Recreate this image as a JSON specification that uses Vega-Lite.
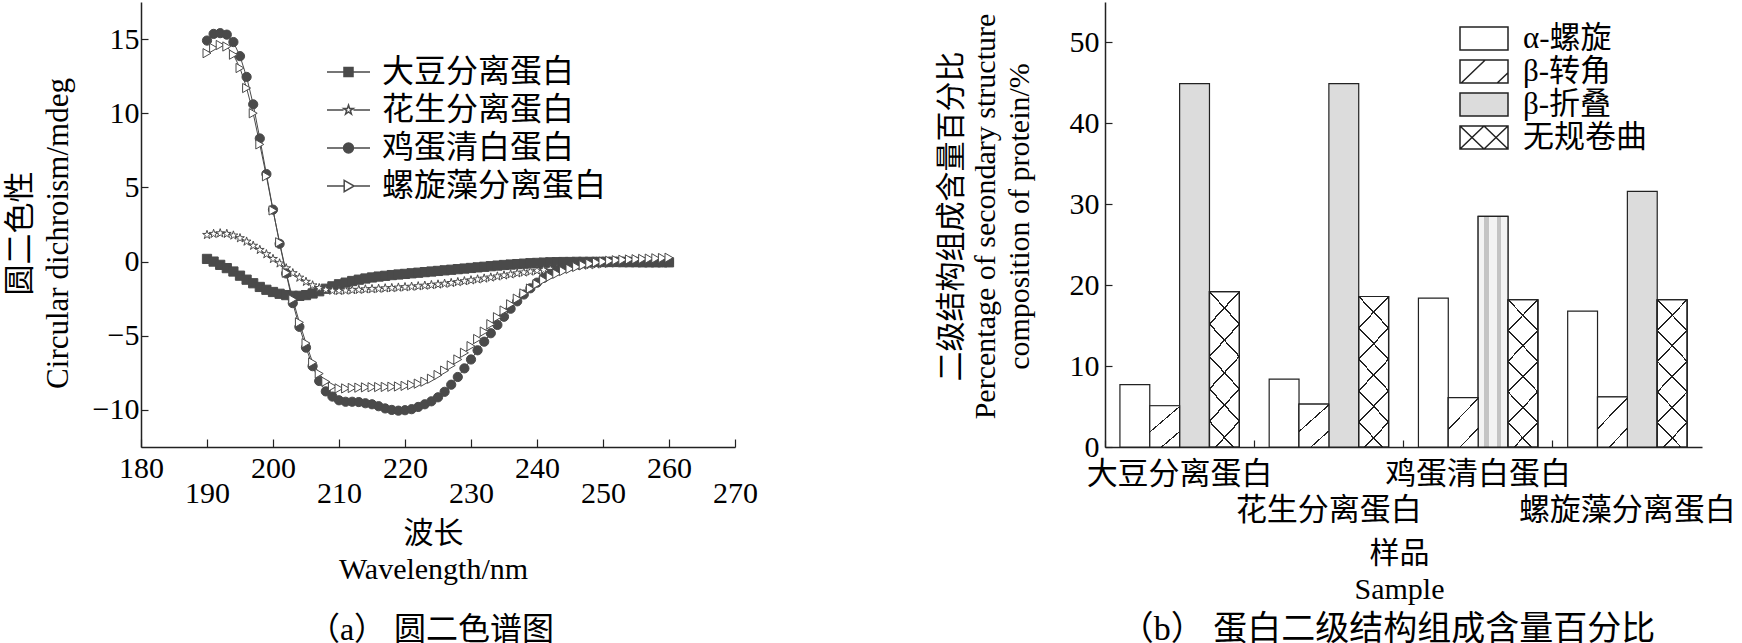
{
  "$schema": "https://vega.github.io/schema/vega-lite/v6.json",
  "padding": {"left": 4, "top": 2, "right": 0, "bottom": 0},
  "background": "white",
  "bounds": "flush",
  "spacing": 370,
  "resolve": {"scale": {"fill": "independent", "shape": "independent", "x": "independent", "y": "independent"}, "legend": {"fill": "independent", "shape": "independent"}},
  "config": {
    "view": {"stroke": null},
    "axis": {
      "labelFont": "Liberation Serif, Noto Sans CJK SC",
      "titleFont": "Liberation Serif, Noto Sans CJK SC",
      "labelColor": "#000",
      "titleColor": "#000",
      "titleFontWeight": "normal",
      "labelFontSize": 30,
      "titleFontSize": 30,
      "grid": false,
      "domainColor": "#222",
      "tickColor": "#222",
      "domainWidth": 1.5,
      "tickWidth": 1.2,
      "labelFlush": false,
      "labelOverlap": false,
      "labelBound": false,
      "labelLimit": 500
    },
    "legend": {"labelFont": "Liberation Serif, Noto Sans CJK SC", "labelColor": "#000", "padding": 0, "labelLimit": 500},
    "title": {"font": "Liberation Serif, Noto Sans CJK SC", "fontWeight": "normal", "color": "#000"}
  },
  "datasets": {
    "cd": [
      {"wl":190,"v":0.18,"s":"大豆分离蛋白"},{"wl":191,"v":0.0,"s":"大豆分离蛋白"},{"wl":192,"v":-0.22,"s":"大豆分离蛋白"},{"wl":193,"v":-0.44,"s":"大豆分离蛋白"},{"wl":194,"v":-0.67,"s":"大豆分离蛋白"},{"wl":195,"v":-0.95,"s":"大豆分离蛋白"},{"wl":196,"v":-1.22,"s":"大豆分离蛋白"},{"wl":197,"v":-1.46,"s":"大豆分离蛋白"},{"wl":198,"v":-1.71,"s":"大豆分离蛋白"},{"wl":199,"v":-1.9,"s":"大豆分离蛋白"},
      {"wl":200,"v":-2.05,"s":"大豆分离蛋白"},{"wl":201,"v":-2.17,"s":"大豆分离蛋白"},{"wl":202,"v":-2.26,"s":"大豆分离蛋白"},{"wl":203,"v":-2.31,"s":"大豆分离蛋白"},{"wl":204,"v":-2.31,"s":"大豆分离蛋白"},{"wl":205,"v":-2.26,"s":"大豆分离蛋白"},{"wl":206,"v":-2.15,"s":"大豆分离蛋白"},{"wl":207,"v":-2.0,"s":"大豆分离蛋白"},{"wl":208,"v":-1.83,"s":"大豆分离蛋白"},{"wl":209,"v":-1.67,"s":"大豆分离蛋白"},
      {"wl":210,"v":-1.53,"s":"大豆分离蛋白"},{"wl":211,"v":-1.42,"s":"大豆分离蛋白"},{"wl":212,"v":-1.31,"s":"大豆分离蛋白"},{"wl":213,"v":-1.22,"s":"大豆分离蛋白"},{"wl":214,"v":-1.14,"s":"大豆分离蛋白"},{"wl":215,"v":-1.07,"s":"大豆分离蛋白"},{"wl":216,"v":-1.01,"s":"大豆分离蛋白"},{"wl":217,"v":-0.96,"s":"大豆分离蛋白"},{"wl":218,"v":-0.91,"s":"大豆分离蛋白"},{"wl":219,"v":-0.87,"s":"大豆分离蛋白"},
      {"wl":220,"v":-0.83,"s":"大豆分离蛋白"},{"wl":221,"v":-0.79,"s":"大豆分离蛋白"},{"wl":222,"v":-0.75,"s":"大豆分离蛋白"},{"wl":223,"v":-0.71,"s":"大豆分离蛋白"},{"wl":224,"v":-0.67,"s":"大豆分离蛋白"},{"wl":225,"v":-0.63,"s":"大豆分离蛋白"},{"wl":226,"v":-0.59,"s":"大豆分离蛋白"},{"wl":227,"v":-0.55,"s":"大豆分离蛋白"},{"wl":228,"v":-0.51,"s":"大豆分离蛋白"},{"wl":229,"v":-0.47,"s":"大豆分离蛋白"},
      {"wl":230,"v":-0.43,"s":"大豆分离蛋白"},{"wl":231,"v":-0.39,"s":"大豆分离蛋白"},{"wl":232,"v":-0.35,"s":"大豆分离蛋白"},{"wl":233,"v":-0.31,"s":"大豆分离蛋白"},{"wl":234,"v":-0.27,"s":"大豆分离蛋白"},{"wl":235,"v":-0.23,"s":"大豆分离蛋白"},{"wl":236,"v":-0.2,"s":"大豆分离蛋白"},{"wl":237,"v":-0.17,"s":"大豆分离蛋白"},{"wl":238,"v":-0.14,"s":"大豆分离蛋白"},{"wl":239,"v":-0.11,"s":"大豆分离蛋白"},
      {"wl":240,"v":-0.09,"s":"大豆分离蛋白"},{"wl":241,"v":-0.07,"s":"大豆分离蛋白"},{"wl":242,"v":-0.05,"s":"大豆分离蛋白"},{"wl":243,"v":-0.04,"s":"大豆分离蛋白"},{"wl":244,"v":-0.03,"s":"大豆分离蛋白"},{"wl":245,"v":-0.03,"s":"大豆分离蛋白"},{"wl":246,"v":-0.02,"s":"大豆分离蛋白"},{"wl":247,"v":-0.02,"s":"大豆分离蛋白"},{"wl":248,"v":-0.02,"s":"大豆分离蛋白"},{"wl":249,"v":-0.02,"s":"大豆分离蛋白"},
      {"wl":250,"v":-0.03,"s":"大豆分离蛋白"},{"wl":251,"v":-0.03,"s":"大豆分离蛋白"},{"wl":252,"v":-0.03,"s":"大豆分离蛋白"},{"wl":253,"v":-0.04,"s":"大豆分离蛋白"},{"wl":254,"v":-0.04,"s":"大豆分离蛋白"},{"wl":255,"v":-0.04,"s":"大豆分离蛋白"},{"wl":256,"v":-0.05,"s":"大豆分离蛋白"},{"wl":257,"v":-0.05,"s":"大豆分离蛋白"},{"wl":258,"v":-0.05,"s":"大豆分离蛋白"},{"wl":259,"v":-0.05,"s":"大豆分离蛋白"},{"wl":260,"v":-0.05,"s":"大豆分离蛋白"},

      {"wl":190,"v":1.8,"s":"花生分离蛋白"},{"wl":191,"v":1.87,"s":"花生分离蛋白"},{"wl":192,"v":1.91,"s":"花生分离蛋白"},{"wl":193,"v":1.87,"s":"花生分离蛋白"},{"wl":194,"v":1.76,"s":"花生分离蛋白"},{"wl":195,"v":1.58,"s":"花生分离蛋白"},{"wl":196,"v":1.35,"s":"花生分离蛋白"},{"wl":197,"v":1.07,"s":"花生分离蛋白"},{"wl":198,"v":0.79,"s":"花生分离蛋白"},{"wl":199,"v":0.5,"s":"花生分离蛋白"},
      {"wl":200,"v":0.18,"s":"花生分离蛋白"},{"wl":201,"v":-0.12,"s":"花生分离蛋白"},{"wl":202,"v":-0.45,"s":"花生分离蛋白"},{"wl":203,"v":-0.78,"s":"花生分离蛋白"},{"wl":204,"v":-1.08,"s":"花生分离蛋白"},{"wl":205,"v":-1.36,"s":"花生分离蛋白"},{"wl":206,"v":-1.6,"s":"花生分离蛋白"},{"wl":207,"v":-1.78,"s":"花生分离蛋白"},{"wl":208,"v":-1.9,"s":"花生分离蛋白"},{"wl":209,"v":-1.96,"s":"花生分离蛋白"},
      {"wl":210,"v":-1.97,"s":"花生分离蛋白"},{"wl":211,"v":-1.95,"s":"花生分离蛋白"},{"wl":212,"v":-1.92,"s":"花生分离蛋白"},{"wl":213,"v":-1.9,"s":"花生分离蛋白"},{"wl":214,"v":-1.87,"s":"花生分离蛋白"},{"wl":215,"v":-1.85,"s":"花生分离蛋白"},{"wl":216,"v":-1.83,"s":"花生分离蛋白"},{"wl":217,"v":-1.8,"s":"花生分离蛋白"},{"wl":218,"v":-1.78,"s":"花生分离蛋白"},{"wl":219,"v":-1.75,"s":"花生分离蛋白"},
      {"wl":220,"v":-1.72,"s":"花生分离蛋白"},{"wl":221,"v":-1.69,"s":"花生分离蛋白"},{"wl":222,"v":-1.66,"s":"花生分离蛋白"},{"wl":223,"v":-1.62,"s":"花生分离蛋白"},{"wl":224,"v":-1.58,"s":"花生分离蛋白"},{"wl":225,"v":-1.54,"s":"花生分离蛋白"},{"wl":226,"v":-1.49,"s":"花生分离蛋白"},{"wl":227,"v":-1.44,"s":"花生分离蛋白"},{"wl":228,"v":-1.38,"s":"花生分离蛋白"},{"wl":229,"v":-1.32,"s":"花生分离蛋白"},
      {"wl":230,"v":-1.26,"s":"花生分离蛋白"},{"wl":231,"v":-1.2,"s":"花生分离蛋白"},{"wl":232,"v":-1.14,"s":"花生分离蛋白"},{"wl":233,"v":-1.07,"s":"花生分离蛋白"},{"wl":234,"v":-1.0,"s":"花生分离蛋白"},{"wl":235,"v":-0.93,"s":"花生分离蛋白"},{"wl":236,"v":-0.86,"s":"花生分离蛋白"},{"wl":237,"v":-0.79,"s":"花生分离蛋白"},{"wl":238,"v":-0.73,"s":"花生分离蛋白"},{"wl":239,"v":-0.67,"s":"花生分离蛋白"},
      {"wl":240,"v":-0.61,"s":"花生分离蛋白"},{"wl":241,"v":-0.56,"s":"花生分离蛋白"},{"wl":242,"v":-0.51,"s":"花生分离蛋白"},{"wl":243,"v":-0.46,"s":"花生分离蛋白"},{"wl":244,"v":-0.41,"s":"花生分离蛋白"},{"wl":245,"v":-0.36,"s":"花生分离蛋白"},{"wl":246,"v":-0.31,"s":"花生分离蛋白"},{"wl":247,"v":-0.27,"s":"花生分离蛋白"},{"wl":248,"v":-0.23,"s":"花生分离蛋白"},{"wl":249,"v":-0.19,"s":"花生分离蛋白"},
      {"wl":250,"v":-0.15,"s":"花生分离蛋白"},{"wl":251,"v":-0.12,"s":"花生分离蛋白"},{"wl":252,"v":-0.09,"s":"花生分离蛋白"},{"wl":253,"v":-0.07,"s":"花生分离蛋白"},{"wl":254,"v":-0.05,"s":"花生分离蛋白"},{"wl":255,"v":-0.03,"s":"花生分离蛋白"},{"wl":256,"v":-0.02,"s":"花生分离蛋白"},{"wl":257,"v":-0.01,"s":"花生分离蛋白"},{"wl":258,"v":0.0,"s":"花生分离蛋白"},{"wl":259,"v":0.0,"s":"花生分离蛋白"},{"wl":260,"v":0.01,"s":"花生分离蛋白"},

      {"wl":190,"v":14.9,"s":"鸡蛋清白蛋白"},{"wl":191,"v":15.35,"s":"鸡蛋清白蛋白"},{"wl":192,"v":15.4,"s":"鸡蛋清白蛋白"},{"wl":193,"v":15.3,"s":"鸡蛋清白蛋白"},{"wl":194,"v":14.8,"s":"鸡蛋清白蛋白"},{"wl":195,"v":13.85,"s":"鸡蛋清白蛋白"},{"wl":196,"v":12.45,"s":"鸡蛋清白蛋白"},{"wl":197,"v":10.6,"s":"鸡蛋清白蛋白"},{"wl":198,"v":8.3,"s":"鸡蛋清白蛋白"},{"wl":199,"v":5.9,"s":"鸡蛋清白蛋白"},
      {"wl":200,"v":3.5,"s":"鸡蛋清白蛋白"},{"wl":201,"v":1.2,"s":"鸡蛋清白蛋白"},{"wl":202,"v":-0.8,"s":"鸡蛋清白蛋白"},{"wl":203,"v":-2.8,"s":"鸡蛋清白蛋白"},{"wl":204,"v":-4.4,"s":"鸡蛋清白蛋白"},{"wl":205,"v":-5.8,"s":"鸡蛋清白蛋白"},{"wl":206,"v":-7.05,"s":"鸡蛋清白蛋白"},{"wl":207,"v":-8.05,"s":"鸡蛋清白蛋白"},{"wl":208,"v":-8.75,"s":"鸡蛋清白蛋白"},{"wl":209,"v":-9.1,"s":"鸡蛋清白蛋白"},
      {"wl":210,"v":-9.35,"s":"鸡蛋清白蛋白"},{"wl":211,"v":-9.45,"s":"鸡蛋清白蛋白"},{"wl":212,"v":-9.45,"s":"鸡蛋清白蛋白"},{"wl":213,"v":-9.47,"s":"鸡蛋清白蛋白"},{"wl":214,"v":-9.55,"s":"鸡蛋清白蛋白"},{"wl":215,"v":-9.62,"s":"鸡蛋清白蛋白"},{"wl":216,"v":-9.75,"s":"鸡蛋清白蛋白"},{"wl":217,"v":-9.9,"s":"鸡蛋清白蛋白"},{"wl":218,"v":-10.0,"s":"鸡蛋清白蛋白"},{"wl":219,"v":-10.05,"s":"鸡蛋清白蛋白"},
      {"wl":220,"v":-10.02,"s":"鸡蛋清白蛋白"},{"wl":221,"v":-9.95,"s":"鸡蛋清白蛋白"},{"wl":222,"v":-9.8,"s":"鸡蛋清白蛋白"},{"wl":223,"v":-9.62,"s":"鸡蛋清白蛋白"},{"wl":224,"v":-9.42,"s":"鸡蛋清白蛋白"},{"wl":225,"v":-9.15,"s":"鸡蛋清白蛋白"},{"wl":226,"v":-8.78,"s":"鸡蛋清白蛋白"},{"wl":227,"v":-8.3,"s":"鸡蛋清白蛋白"},{"wl":228,"v":-7.78,"s":"鸡蛋清白蛋白"},{"wl":229,"v":-7.2,"s":"鸡蛋清白蛋白"},
      {"wl":230,"v":-6.6,"s":"鸡蛋清白蛋白"},{"wl":231,"v":-5.98,"s":"鸡蛋清白蛋白"},{"wl":232,"v":-5.4,"s":"鸡蛋清白蛋白"},{"wl":233,"v":-4.83,"s":"鸡蛋清白蛋白"},{"wl":234,"v":-4.27,"s":"鸡蛋清白蛋白"},{"wl":235,"v":-3.72,"s":"鸡蛋清白蛋白"},{"wl":236,"v":-3.18,"s":"鸡蛋清白蛋白"},{"wl":237,"v":-2.68,"s":"鸡蛋清白蛋白"},{"wl":238,"v":-2.22,"s":"鸡蛋清白蛋白"},{"wl":239,"v":-1.8,"s":"鸡蛋清白蛋白"},
      {"wl":240,"v":-1.42,"s":"鸡蛋清白蛋白"},{"wl":241,"v":-1.1,"s":"鸡蛋清白蛋白"},{"wl":242,"v":-0.83,"s":"鸡蛋清白蛋白"},{"wl":243,"v":-0.6,"s":"鸡蛋清白蛋白"},{"wl":244,"v":-0.42,"s":"鸡蛋清白蛋白"},{"wl":245,"v":-0.28,"s":"鸡蛋清白蛋白"},{"wl":246,"v":-0.18,"s":"鸡蛋清白蛋白"},{"wl":247,"v":-0.1,"s":"鸡蛋清白蛋白"},{"wl":248,"v":-0.05,"s":"鸡蛋清白蛋白"},{"wl":249,"v":-0.02,"s":"鸡蛋清白蛋白"},
      {"wl":250,"v":0.0,"s":"鸡蛋清白蛋白"},{"wl":251,"v":0.0,"s":"鸡蛋清白蛋白"},{"wl":252,"v":0.0,"s":"鸡蛋清白蛋白"},{"wl":253,"v":0.0,"s":"鸡蛋清白蛋白"},{"wl":254,"v":0.0,"s":"鸡蛋清白蛋白"},{"wl":255,"v":-0.01,"s":"鸡蛋清白蛋白"},{"wl":256,"v":-0.01,"s":"鸡蛋清白蛋白"},{"wl":257,"v":-0.02,"s":"鸡蛋清白蛋白"},{"wl":258,"v":-0.02,"s":"鸡蛋清白蛋白"},{"wl":259,"v":-0.03,"s":"鸡蛋清白蛋白"},{"wl":260,"v":-0.03,"s":"鸡蛋清白蛋白"},

      {"wl":190,"v":14.05,"s":"螺旋藻分离蛋白"},{"wl":191,"v":14.4,"s":"螺旋藻分离蛋白"},{"wl":192,"v":14.6,"s":"螺旋藻分离蛋白"},{"wl":193,"v":14.5,"s":"螺旋藻分离蛋白"},{"wl":194,"v":13.95,"s":"螺旋藻分离蛋白"},{"wl":195,"v":13.05,"s":"螺旋藻分离蛋白"},{"wl":196,"v":11.7,"s":"螺旋藻分离蛋白"},{"wl":197,"v":10.0,"s":"螺旋藻分离蛋白"},{"wl":198,"v":7.9,"s":"螺旋藻分离蛋白"},{"wl":199,"v":5.75,"s":"螺旋藻分离蛋白"},
      {"wl":200,"v":3.45,"s":"螺旋藻分离蛋白"},{"wl":201,"v":1.3,"s":"螺旋藻分离蛋白"},{"wl":202,"v":-0.75,"s":"螺旋藻分离蛋白"},{"wl":203,"v":-2.55,"s":"螺旋藻分离蛋白"},{"wl":204,"v":-4.1,"s":"螺旋藻分离蛋白"},{"wl":205,"v":-5.5,"s":"螺旋藻分离蛋白"},{"wl":206,"v":-6.8,"s":"螺旋藻分离蛋白"},{"wl":207,"v":-7.55,"s":"螺旋藻分离蛋白"},{"wl":208,"v":-8.1,"s":"螺旋藻分离蛋白"},{"wl":209,"v":-8.42,"s":"螺旋藻分离蛋白"},
      {"wl":210,"v":-8.55,"s":"螺旋藻分离蛋白"},{"wl":211,"v":-8.55,"s":"螺旋藻分离蛋白"},{"wl":212,"v":-8.52,"s":"螺旋藻分离蛋白"},{"wl":213,"v":-8.5,"s":"螺旋藻分离蛋白"},{"wl":214,"v":-8.48,"s":"螺旋藻分离蛋白"},{"wl":215,"v":-8.47,"s":"螺旋藻分离蛋白"},{"wl":216,"v":-8.46,"s":"螺旋藻分离蛋白"},{"wl":217,"v":-8.45,"s":"螺旋藻分离蛋白"},{"wl":218,"v":-8.44,"s":"螺旋藻分离蛋白"},{"wl":219,"v":-8.42,"s":"螺旋藻分离蛋白"},
      {"wl":220,"v":-8.38,"s":"螺旋藻分离蛋白"},{"wl":221,"v":-8.32,"s":"螺旋藻分离蛋白"},{"wl":222,"v":-8.23,"s":"螺旋藻分离蛋白"},{"wl":223,"v":-8.1,"s":"螺旋藻分离蛋白"},{"wl":224,"v":-7.9,"s":"螺旋藻分离蛋白"},{"wl":225,"v":-7.65,"s":"螺旋藻分离蛋白"},{"wl":226,"v":-7.35,"s":"螺旋藻分离蛋白"},{"wl":227,"v":-7.0,"s":"螺旋藻分离蛋白"},{"wl":228,"v":-6.6,"s":"螺旋藻分离蛋白"},{"wl":229,"v":-6.15,"s":"螺旋藻分离蛋白"},
      {"wl":230,"v":-5.7,"s":"螺旋藻分离蛋白"},{"wl":231,"v":-5.22,"s":"螺旋藻分离蛋白"},{"wl":232,"v":-4.72,"s":"螺旋藻分离蛋白"},{"wl":233,"v":-4.22,"s":"螺旋藻分离蛋白"},{"wl":234,"v":-3.75,"s":"螺旋藻分离蛋白"},{"wl":235,"v":-3.3,"s":"螺旋藻分离蛋白"},{"wl":236,"v":-2.88,"s":"螺旋藻分离蛋白"},{"wl":237,"v":-2.5,"s":"螺旋藻分离蛋白"},{"wl":238,"v":-2.15,"s":"螺旋藻分离蛋白"},{"wl":239,"v":-1.82,"s":"螺旋藻分离蛋白"},
      {"wl":240,"v":-1.52,"s":"螺旋藻分离蛋白"},{"wl":241,"v":-1.25,"s":"螺旋藻分离蛋白"},{"wl":242,"v":-1.02,"s":"螺旋藻分离蛋白"},{"wl":243,"v":-0.82,"s":"螺旋藻分离蛋白"},{"wl":244,"v":-0.64,"s":"螺旋藻分离蛋白"},{"wl":245,"v":-0.49,"s":"螺旋藻分离蛋白"},{"wl":246,"v":-0.36,"s":"螺旋藻分离蛋白"},{"wl":247,"v":-0.24,"s":"螺旋藻分离蛋白"},{"wl":248,"v":-0.14,"s":"螺旋藻分离蛋白"},{"wl":249,"v":-0.06,"s":"螺旋藻分离蛋白"},
      {"wl":250,"v":0.0,"s":"螺旋藻分离蛋白"},{"wl":251,"v":0.05,"s":"螺旋藻分离蛋白"},{"wl":252,"v":0.09,"s":"螺旋藻分离蛋白"},{"wl":253,"v":0.12,"s":"螺旋藻分离蛋白"},{"wl":254,"v":0.14,"s":"螺旋藻分离蛋白"},{"wl":255,"v":0.16,"s":"螺旋藻分离蛋白"},{"wl":256,"v":0.18,"s":"螺旋藻分离蛋白"},{"wl":257,"v":0.2,"s":"螺旋藻分离蛋白"},{"wl":258,"v":0.22,"s":"螺旋藻分离蛋白"},{"wl":259,"v":0.24,"s":"螺旋藻分离蛋白"},{"wl":260,"v":0.26,"s":"螺旋藻分离蛋白"}
    ],
    "ss": [
      {"sample":"大豆分离蛋白","structure":"α-螺旋","value":7.7},
      {"sample":"大豆分离蛋白","structure":"β-转角","value":5.1},
      {"sample":"大豆分离蛋白","structure":"β-折叠","value":44.9},
      {"sample":"大豆分离蛋白","structure":"无规卷曲","value":19.2},
      {"sample":"花生分离蛋白","structure":"α-螺旋","value":8.4},
      {"sample":"花生分离蛋白","structure":"β-转角","value":5.3},
      {"sample":"花生分离蛋白","structure":"β-折叠","value":44.9},
      {"sample":"花生分离蛋白","structure":"无规卷曲","value":18.6},
      {"sample":"鸡蛋清白蛋白","structure":"α-螺旋","value":18.4},
      {"sample":"鸡蛋清白蛋白","structure":"β-转角","value":6.1},
      {"sample":"鸡蛋清白蛋白","structure":"β-折叠","value":28.5},
      {"sample":"鸡蛋清白蛋白","structure":"无规卷曲","value":18.2},
      {"sample":"螺旋藻分离蛋白","structure":"α-螺旋","value":16.8},
      {"sample":"螺旋藻分离蛋白","structure":"β-转角","value":6.2},
      {"sample":"螺旋藻分离蛋白","structure":"β-折叠","value":31.6},
      {"sample":"螺旋藻分离蛋白","structure":"无规卷曲","value":18.2}
    ]
  },
  "hconcat": [
    {
      "width": 594,
      "height": 445,
      "data": {"name": "cd"},
      "title": {"text": "（a） 圆二色谱图", "orient": "bottom", "anchor": "middle", "frame": "group", "offset": 31, "fontSize": 32, "dx": -7},
      "resolve": {"scale": {"shape": "independent"}, "legend": {"shape": "independent", "fill": "independent"}},
      "encoding": {
        "x": {
          "field": "wl", "type": "quantitative",
          "scale": {"domain": [180, 270], "nice": false, "zero": false},
          "axis": {
            "values": [180, 190, 200, 210, 220, 230, 240, 250, 260, 270],
            "tickSize": -8, "labelPadding": 14,
            "labelExpr": "datum.value % 20 == 10 ? ['', datum.label] : datum.label",
            "labelLineHeight": 25,
            "title": ["波长", "Wavelength/nm"],
            "titleX": 292, "titleY": 71, "titleAlign": "center", "titleBaseline": "top", "titleLineHeight": 36
          }
        },
        "y": {
          "field": "v", "type": "quantitative",
          "scale": {"domain": [-12.5, 17.5], "nice": false, "zero": false},
          "axis": {
            "values": [-10, -5, 0, 5, 10, 15],
            "tickSize": -7, "labelPadding": 9,
            "title": ["圆二色性", "Circular dichroism/mdeg"],
            "titleFontSize": 31,
            "titleAngle": 270, "titleX": -136, "titleY": 231, "titleAlign": "center", "titleBaseline": "top", "titleLineHeight": 38
          }
        }
      },
      "layer": [
        {
          "mark": {"type": "line", "stroke": "#4a4a4a", "strokeWidth": 1},
          "encoding": {"detail": {"field": "s", "type": "nominal"}}
        },
        {
          "mark": {"type": "point", "filled": true, "stroke": "#4a4a4a", "strokeWidth": 1, "size": 85, "opacity": 1},
          "encoding": {
            "shape": {
              "field": "s", "type": "nominal",
              "scale": {
                "domain": ["大豆分离蛋白", "花生分离蛋白", "鸡蛋清白蛋白", "螺旋藻分离蛋白"],
                "range": ["square", "M0,-1L0.2245,-0.309L0.951,-0.309L0.3633,0.118L0.5878,0.809L0,0.382L-0.5878,0.809L-0.3633,0.118L-0.951,-0.309L-0.2245,-0.309Z", "circle", "triangle-right"]
              },
              "legend": null
            },
            "fill": {
              "field": "s", "type": "nominal",
              "scale": {
                "domain": ["大豆分离蛋白", "花生分离蛋白", "鸡蛋清白蛋白", "螺旋藻分离蛋白"],
                "range": ["#4a4a4a", "#ffffff", "#4a4a4a", "#ffffff"]
              },
              "legend": null
            }
          }
        },
        {
          "mark": {"type": "point", "filled": true, "stroke": "#4a4a4a", "strokeWidth": 1, "size": 85, "opacity": 0},
          "encoding": {
            "shape": {
              "field": "s", "type": "nominal",
              "scale": {
                "domain": ["大豆分离蛋白", "花生分离蛋白", "鸡蛋清白蛋白", "螺旋藻分离蛋白"],
                "range": [
                  "M-1,0H1M-0.21,-0.21H0.21V0.21H-0.21Z",
                  "M-1,0H-0.23M0.23,0H1M0,-0.23L0.052,-0.071L0.219,-0.071L0.084,0.027L0.135,0.186L0,0.088L-0.135,0.186L-0.084,0.027L-0.219,-0.071L-0.052,-0.071Z",
                  "M-1,0H1M-0.23,0A0.23,0.23,0,1,0,0.23,0A0.23,0.23,0,1,0,-0.23,0Z",
                  "M-1,0H-0.2M0.26,0H1M-0.2,-0.26L0.26,0L-0.2,0.26Z"
                ]
              },
              "legend": {
                "orient": "none", "legendX": 185, "legendY": 51, "title": null,
                "labelFontSize": 32, "symbolSize": 1849, "labelOffset": 11, "rowPadding": 0, "clipHeight": 38,
                "symbolOpacity": 1,
                "encode": {
                  "symbols": {
                    "fill": {"signal": "datum.value === '大豆分离蛋白' || datum.value === '鸡蛋清白蛋白' ? '#4a4a4a' : '#ffffff'"},
                    "stroke": {"value": "#4a4a4a"},
                    "strokeWidth": {"value": 1},
                    "opacity": {"value": 1},
                    "fillOpacity": {"value": 1},
                    "strokeOpacity": {"value": 1}
                  }
                }
              }
            },
            "fill": {
              "field": "s", "type": "nominal",
              "scale": {
                "domain": ["大豆分离蛋白", "花生分离蛋白", "鸡蛋清白蛋白", "螺旋藻分离蛋白"],
                "range": ["#4a4a4a", "#ffffff", "#4a4a4a", "#ffffff"]
              },
              "legend": null
            }
          }
        }
      ]
    },
    {
      "width": 597,
      "height": 445,
      "data": {"name": "ss"},
      "title": {"text": "（b） 蛋白二级结构组成含量百分比", "orient": "bottom", "anchor": "middle", "frame": "group", "offset": 9, "fontSize": 34, "dx": -16},
      "resolve": {"scale": {"shape": "independent"}, "legend": {"shape": "independent", "fill": "independent"}},
      "encoding": {
        "x": {
          "field": "sample", "type": "nominal",
          "scale": {"domain": ["大豆分离蛋白", "花生分离蛋白", "鸡蛋清白蛋白", "螺旋藻分离蛋白"], "paddingInner": 0.2, "paddingOuter": 0.1},
          "axis": {
            "bandPosition": -0.125, "labelAngle": 0,
            "tickSize": -7, "labelPadding": 19, "labelFontSize": 31,
            "labelExpr": "indexof(['花生分离蛋白', '螺旋藻分离蛋白'], datum.value) >= 0 ? ['', datum.label] : datum.label",
            "labelLineHeight": 36,
            "title": ["样品", "Sample"],
            "titleX": 294, "titleY": 91, "titleAlign": "center", "titleBaseline": "top", "titleLineHeight": 36
          }
        },
        "xOffset": {
          "field": "structure", "type": "nominal",
          "scale": {"domain": ["α-螺旋", "β-转角", "β-折叠", "无规卷曲"], "paddingInner": 0, "paddingOuter": 0}
        },
        "y": {
          "field": "value", "type": "quantitative",
          "scale": {"domain": [0, 55], "nice": false},
          "axis": {
            "values": [0, 10, 20, 30, 40, 50],
            "tickSize": -7, "labelPadding": 13,
            "title": ["二级结构组成含量百分比", "Percentage of secondary structure", "composition of protein/%"],
            "titleAngle": 270, "titleX": -169, "titleY": 214, "titleAlign": "center", "titleBaseline": "top", "titleLineHeight": 34
          }
        }
      },
      "layer": [
        {
          "mark": {"type": "bar", "stroke": "#222", "strokeWidth": 1.2},
          "encoding": {
            "fill": {
              "field": "structure", "type": "nominal",
              "scale": {"domain": ["α-螺旋", "β-转角", "β-折叠", "无规卷曲"], "range": ["#ffffff", "#ffffff", "#dcdcdc", "#ffffff"]},
              "legend": null
            }
          }
        },
        {
          "transform": [{"filter": "datum.structure === 'β-折叠' && datum.sample === '鸡蛋清白蛋白'"}],
          "mark": {
            "type": "bar", "stroke": "#222", "strokeWidth": 1.2,
            "fill": {"gradient": "linear", "x1": 0, "y1": 0, "x2": 1, "y2": 0, "stops": [
              {"offset": 0, "color": "#f3f3f3"}, {"offset": 0.2, "color": "#f3f3f3"}, {"offset": 0.2, "color": "#c4c4c4"}, {"offset": 0.36, "color": "#c4c4c4"}, {"offset": 0.36, "color": "#f3f3f3"},
              {"offset": 0.62, "color": "#f3f3f3"}, {"offset": 0.62, "color": "#c4c4c4"}, {"offset": 0.78, "color": "#c4c4c4"}, {"offset": 0.78, "color": "#f3f3f3"}, {"offset": 1, "color": "#f3f3f3"}
            ]}
          }
        },
        {
          "transform": [{"filter": "datum.structure === 'β-转角'"}],
          "mark": {
            "type": "bar", "stroke": "#222", "strokeWidth": 1.2,
            "fill": {"gradient": "linear", "x1": 0, "y1": 0, "x2": 0.725, "y2": 1.17, "stops": [
              {"offset": 0, "color": "#ffffff"}, {"offset": 0.383, "color": "#ffffff"}, {"offset": 0.383, "color": "#222222"}, {"offset": 0.405, "color": "#222222"}, {"offset": 0.405, "color": "#ffffff"},
              {"offset": 0.758, "color": "#ffffff"}, {"offset": 0.758, "color": "#222222"}, {"offset": 0.78, "color": "#222222"}, {"offset": 0.78, "color": "#ffffff"}, {"offset": 1, "color": "#ffffff"}
            ]}
          }
        },
        {
          "transform": [{"filter": "datum.structure === '无规卷曲'"}],
          "mark": {
            "type": "bar", "stroke": "#222", "strokeWidth": 1.2,
            "fill": {"gradient": "linear", "x1": 1, "y1": 0, "x2": 0.7584, "y2": 1.1582, "stops": [
              {"offset": 0, "color": "#ffffff"},
              {"offset": 0.1671, "color": "#ffffff"}, {"offset": 0.1671, "color": "#222222"}, {"offset": 0.1781, "color": "#222222"}, {"offset": 0.1781, "color": "#ffffff"},
              {"offset": 0.3397, "color": "#ffffff"}, {"offset": 0.3397, "color": "#222222"}, {"offset": 0.3507, "color": "#222222"}, {"offset": 0.3507, "color": "#ffffff"},
              {"offset": 0.5123, "color": "#ffffff"}, {"offset": 0.5123, "color": "#222222"}, {"offset": 0.5233, "color": "#222222"}, {"offset": 0.5233, "color": "#ffffff"},
              {"offset": 0.6849, "color": "#ffffff"}, {"offset": 0.6849, "color": "#222222"}, {"offset": 0.6959, "color": "#222222"}, {"offset": 0.6959, "color": "#ffffff"},
              {"offset": 0.8575, "color": "#ffffff"}, {"offset": 0.8575, "color": "#222222"}, {"offset": 0.8685, "color": "#222222"}, {"offset": 0.8685, "color": "#ffffff"},
              {"offset": 1, "color": "#ffffff"}
            ]}
          }
        },
        {
          "transform": [{"filter": "datum.structure === '无规卷曲'"}],
          "mark": {
            "type": "bar", "stroke": "#222", "strokeWidth": 1.2,
            "fill": {"gradient": "linear", "x1": 0, "y1": 0, "x2": 0.2416, "y2": 1.1582, "stops": [
              {"offset": 0, "color": "rgba(255,255,255,0)"},
              {"offset": 0.1671, "color": "rgba(255,255,255,0)"}, {"offset": 0.1671, "color": "#222222"}, {"offset": 0.1781, "color": "#222222"}, {"offset": 0.1781, "color": "rgba(255,255,255,0)"},
              {"offset": 0.3397, "color": "rgba(255,255,255,0)"}, {"offset": 0.3397, "color": "#222222"}, {"offset": 0.3507, "color": "#222222"}, {"offset": 0.3507, "color": "rgba(255,255,255,0)"},
              {"offset": 0.5123, "color": "rgba(255,255,255,0)"}, {"offset": 0.5123, "color": "#222222"}, {"offset": 0.5233, "color": "#222222"}, {"offset": 0.5233, "color": "rgba(255,255,255,0)"},
              {"offset": 0.6849, "color": "rgba(255,255,255,0)"}, {"offset": 0.6849, "color": "#222222"}, {"offset": 0.6959, "color": "#222222"}, {"offset": 0.6959, "color": "rgba(255,255,255,0)"},
              {"offset": 0.8575, "color": "rgba(255,255,255,0)"}, {"offset": 0.8575, "color": "#222222"}, {"offset": 0.8685, "color": "#222222"}, {"offset": 0.8685, "color": "rgba(255,255,255,0)"},
              {"offset": 1, "color": "rgba(255,255,255,0)"}
            ]}
          }
        },
        {
          "mark": {"type": "point", "filled": true, "stroke": "#222", "strokeWidth": 1.2, "opacity": 0},
          "encoding": {
            "shape": {
              "field": "structure", "type": "nominal",
              "scale": {
                "domain": ["α-螺旋", "β-转角", "β-折叠", "无规卷曲"],
                "range": [
                  "M-1,-0.48H1V0.48H-1Z",
                  "M-1,-0.48H1V0.48H-1ZM-0.95,0.48L0.05,-0.48M0.55,0.48L1,0.05",
                  "M-1,-0.48H1V0.48H-1Z",
                  "M-1,-0.48H1V0.48H-1ZM-1,-0.48L0,0.48L1,-0.48M-1,0.48L0,-0.48L1,0.48"
                ]
              },
              "legend": {
                "orient": "none", "legendX": 354, "legendY": 20, "title": null,
                "labelFontSize": 31, "symbolSize": 2304, "labelOffset": 14, "rowPadding": 0, "clipHeight": 33,
                "symbolOpacity": 1,
                "encode": {
                  "symbols": {
                    "fill": {"signal": "datum.value === 'β-折叠' ? '#dcdcdc' : '#ffffff'"},
                    "stroke": {"value": "#222"},
                    "strokeWidth": {"value": 1.2},
                    "opacity": {"value": 1},
                    "fillOpacity": {"value": 1},
                    "strokeOpacity": {"value": 1}
                  }
                }
              }
            },
            "fill": {
              "field": "structure", "type": "nominal",
              "scale": {"domain": ["α-螺旋", "β-转角", "β-折叠", "无规卷曲"], "range": ["#ffffff", "#ffffff", "#dcdcdc", "#ffffff"]},
              "legend": null
            }
          }
        }
      ]
    }
  ]
}
